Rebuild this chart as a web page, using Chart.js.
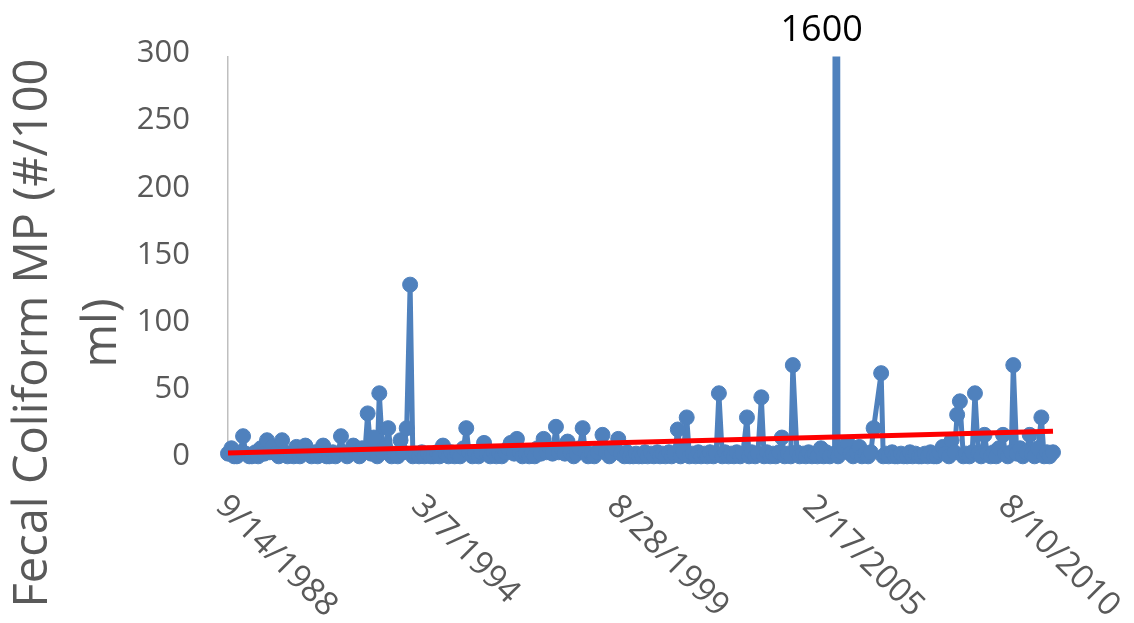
<!DOCTYPE html>
<html>
<head>
<meta charset="utf-8">
<script src="https://cdn.jsdelivr.net/npm/chart.js@4"></script>
<style>
  html, body { margin: 0; padding: 0; background: #fff; }
  #wrap { width: 1134px; height: 623px; position: relative; }
</style>
</head>
<body>
<div id="wrap"><canvas id="coliformChart"></canvas></div>
<script>
// sampling dates (M/D/YYYY) and fecal coliform readings, one line per year
const sampleDates = [
  '9/14/1988', '10/19/1988', '11/16/1988', '12/14/1988',
  '1/18/1989', '2/15/1989', '3/15/1989', '4/19/1989', '5/17/1989', '6/21/1989', '7/19/1989', '8/16/1989', '9/20/1989', '10/18/1989', '11/15/1989', '12/13/1989',
  '1/17/1990', '2/14/1990', '3/21/1990', '4/18/1990', '5/16/1990', '6/20/1990', '7/18/1990', '8/15/1990', '9/19/1990', '10/17/1990', '11/14/1990', '12/12/1990',
  '1/16/1991', '2/20/1991', '3/20/1991', '4/17/1991', '5/15/1991', '6/19/1991', '7/17/1991', '8/21/1991', '9/18/1991', '10/16/1991', '11/13/1991', '12/11/1991',
  '1/15/1992', '2/19/1992', '3/18/1992', '4/15/1992', '5/20/1992', '6/17/1992', '7/15/1992', '8/12/1992', '9/16/1992', '10/14/1992', '11/18/1992', '12/9/1992',
  '1/13/1993', '2/10/1993', '3/10/1993', '4/14/1993', '5/12/1993', '6/16/1993', '7/14/1993', '8/11/1993', '9/15/1993', '10/20/1993', '11/17/1993', '12/15/1993',
  '1/19/1994', '2/16/1994', '3/16/1994', '4/20/1994', '5/18/1994', '6/15/1994', '7/20/1994', '8/17/1994', '9/21/1994', '10/19/1994', '11/16/1994', '12/14/1994',
  '1/18/1995', '2/15/1995', '3/15/1995', '4/19/1995', '5/17/1995', '6/14/1995', '7/19/1995', '8/16/1995', '9/20/1995', '10/18/1995', '11/15/1995', '12/13/1995',
  '1/17/1996', '2/21/1996', '3/20/1996', '4/17/1996', '5/15/1996', '6/19/1996', '7/17/1996', '8/14/1996', '9/18/1996', '10/16/1996', '11/13/1996', '12/11/1996',
  '1/15/1997', '2/19/1997', '3/19/1997', '4/16/1997', '5/14/1997', '6/18/1997', '7/16/1997', '8/13/1997', '9/17/1997', '10/15/1997', '11/19/1997', '12/17/1997',
  '1/14/1998', '2/18/1998', '3/18/1998', '4/15/1998', '5/20/1998', '6/17/1998', '7/15/1998', '8/19/1998', '9/16/1998', '10/14/1998', '11/18/1998', '12/16/1998',
  '1/20/1999', '2/17/1999', '3/10/1999', '4/14/1999', '5/19/1999', '6/16/1999', '7/14/1999', '8/18/1999', '9/15/1999', '10/20/1999', '11/17/1999', '12/15/1999',
  '1/19/2000', '2/16/2000', '3/15/2000', '4/19/2000', '5/17/2000', '6/14/2000', '7/19/2000', '8/16/2000', '9/20/2000', '10/18/2000', '11/15/2000', '12/13/2000',
  '1/17/2001', '2/14/2001', '3/14/2001', '4/18/2001', '5/16/2001', '6/13/2001', '7/18/2001', '8/15/2001', '9/19/2001', '10/17/2001', '11/14/2001', '12/12/2001',
  '1/16/2002', '2/13/2002', '3/13/2002', '4/17/2002', '5/15/2002', '6/12/2002', '7/17/2002', '8/14/2002', '9/18/2002', '10/16/2002', '11/13/2002', '12/11/2002',
  '1/15/2003', '2/12/2003', '3/26/2003', '4/16/2003', '5/14/2003', '6/18/2003', '7/16/2003', '8/20/2003', '9/17/2003', '10/15/2003', '11/19/2003', '12/17/2003',
  '1/14/2004', '2/18/2004', '3/17/2004', '4/14/2004', '5/19/2004', '6/16/2004', '7/7/2004', '8/18/2004', '9/15/2004', '10/20/2004', '11/17/2004', '12/15/2004',
  '1/19/2005', '2/16/2005', '3/16/2005', '4/20/2005', '5/18/2005', '6/15/2005', '7/20/2005', '9/7/2005', '9/28/2005', '10/12/2005', '11/16/2005', '12/14/2005',
  '1/18/2006', '2/15/2006', '3/15/2006', '4/19/2006', '5/17/2006', '6/14/2006', '7/19/2006', '8/16/2006', '9/13/2006', '10/11/2006', '12/27/2006',
  '1/17/2007', '2/14/2007', '3/14/2007', '4/18/2007', '5/16/2007', '6/13/2007', '7/18/2007', '8/15/2007', '9/19/2007', '10/17/2007', '11/14/2007', '12/12/2007',
  '1/16/2008', '2/13/2008', '3/19/2008', '4/16/2008', '5/14/2008', '6/18/2008', '7/16/2008', '8/13/2008', '9/17/2008', '10/15/2008', '11/19/2008', '12/17/2008',
  '1/14/2009', '2/11/2009', '3/11/2009', '4/15/2009', '5/13/2009', '6/17/2009', '7/15/2009', '8/12/2009', '9/16/2009', '10/14/2009', '11/18/2009', '12/16/2009',
  '1/20/2010', '2/17/2010', '3/17/2010', '4/14/2010', '5/26/2010', '6/16/2010', '7/14/2010', '8/18/2010', '9/8/2010', '10/13/2010', '11/17/2010', '12/15/2010',
  '1/19/2011', '2/23/2011', '3/16/2011', '4/13/2011', '5/18/2011', '6/22/2011', '7/20/2011', '8/17/2011', '9/14/2011', '10/19/2011'
];

const fecalColiform = [
  4, 8, 2, 2,
  5, 17, 4, 2, 2, 5, 2, 8, 4, 14, 5, 9,
  4, 2, 14, 5, 2, 4, 2, 9, 2, 5, 10, 4,
  2, 5, 2, 4, 10, 2, 2, 5, 2, 4, 17, 5,
  2, 4, 10, 5, 2, 8, 5, 34, 4, 16, 2, 49,
  5, 8, 23, 2, 4, 2, 14, 5, 23, 130, 2, 4,
  2, 5, 2, 4, 2, 2, 5, 2, 10, 4, 2, 5,
  2, 4, 2, 8, 23, 5, 2, 4, 2, 5, 12, 4,
  2, 5, 2, 4, 2, 5, 8, 12, 4, 15, 5, 2,
  4, 2, 5, 2, 8, 4, 15, 5, 8, 4, 24, 5,
  8, 4, 13, 5, 2, 4, 8, 23, 5, 2, 4, 2,
  5, 8, 18, 5, 2, 4, 8, 15, 4, 2, 5, 2,
  2, 4, 2, 2, 5, 2, 4, 2, 5, 2, 4, 2,
  5, 2, 4, 22, 2, 5, 31, 2, 4, 2, 5, 2,
  4, 2, 5, 2, 4, 49, 2, 5, 2, 4, 2, 5,
  2, 4, 31, 2, 5, 2, 4, 46, 2, 5, 2, 4,
  2, 5, 16, 2, 4, 2, 70, 5, 2, 4, 2, 5,
  2, 4, 2, 8, 2, 5, 2, 4, 1600, 2, 5, 8,
  12, 4, 2, 5, 9, 2, 4, 2, 5, 23, 64,
  2, 4, 2, 5, 2, 2, 4, 2, 2, 5, 2, 4,
  2, 2, 4, 2, 5, 2, 2, 5, 9, 4, 2, 14,
  5, 33, 43, 2, 4, 2, 5, 49, 4, 2, 18, 4,
  2, 5, 2, 8, 18, 4, 2, 5, 70, 4, 8, 2,
  5, 18, 4, 2, 8, 31, 2, 5, 2, 5
];

// linear trend: value at first and last sample
const trendValues = [4.4, 20.6];

const tickLabels = ['9/14/1988', '3/7/1994', '8/28/1999', '2/17/2005', '8/10/2010'];
const yMax = 300;
const yStep = 50;
const axisTitle = ['Fecal Coliform MP (#/100', 'ml)'];

const BLUE = '#4f81bd';
const GREY_TEXT = '#595959';
const BASE = Date.UTC(1988, 8, 14);

function toDay(s) {
  const [m, d, y] = s.split('/').map(Number);
  return Math.round((Date.UTC(y, m - 1, d) - BASE) / 86400000);
}

const points = sampleDates.map((d, i) => ({ x: toDay(d), y: fecalColiform[i] }));
const firstDay = points[0].x;
const lastDay = points[points.length - 1].x;

// axis title, date labels slanting down to the right, value of the off-scale spike
const extraLabels = {
  id: 'extraLabels',
  afterDraw(chart) {
    const { ctx, chartArea, scales: { x, y } } = chart;
    ctx.save();

    ctx.fillStyle = GREY_TEXT;
    ctx.font = '47px "Open Sans"';
    ctx.textAlign = 'center';
    ctx.textBaseline = 'middle';
    axisTitle.forEach((line, i) => {
      ctx.save();
      ctx.translate(34 + i * 69, 333);
      ctx.rotate(-Math.PI / 2);
      ctx.fillText(line, 0, 0);
      ctx.restore();
    });

    ctx.font = '33px "Open Sans"';
    ctx.textAlign = 'left';
    tickLabels.forEach((lbl) => {
      const px = x.getPixelForValue(toDay(lbl));
      ctx.save();
      ctx.translate(px - 7, chartArea.bottom + 42);
      ctx.rotate(Math.PI / 4);
      ctx.fillText(lbl, 0, 0);
      ctx.restore();
    });

    ctx.fillStyle = '#000';
    ctx.font = '36px "Open Sans"';
    ctx.textAlign = 'center';
    ctx.textBaseline = 'alphabetic';
    points.forEach((p) => {
      if (p.y > y.max) {
        ctx.fillText(String(p.y), x.getPixelForValue(p.x) - 15, chartArea.top - 16);
      }
    });
    ctx.restore();
  },
};

new Chart(document.getElementById('coliformChart'), {
  type: 'line',
  data: {
    datasets: [
      {
        label: 'Trend',
        data: [{ x: firstDay, y: trendValues[0] }, { x: lastDay, y: trendValues[1] }],
        borderColor: '#ff0000',
        borderWidth: 5,
        pointRadius: 0,
        order: 0,
        clip: { left: 10, top: 0, right: 10, bottom: 10 },
      },
      {
        label: 'Fecal Coliform',
        data: points,
        borderColor: BLUE,
        backgroundColor: BLUE,
        borderWidth: 5,
        borderJoinStyle: 'round',
        borderCapStyle: 'round',
        pointRadius: 7.5,
        pointBorderWidth: 1,
        pointBackgroundColor: BLUE,
        pointBorderColor: BLUE,
        tension: 0,
        order: 1,
        clip: { left: 10, top: 0, right: 10, bottom: 10 },
      },
    ],
  },
  options: {
    responsive: true,
    maintainAspectRatio: false,
    animation: false,
    devicePixelRatio: 1,
    layout: { padding: { top: 52, right: 81, left: 0, bottom: 0 } },
    plugins: { legend: { display: false }, tooltip: { enabled: false } },
    events: [],
    scales: {
      x: {
        type: 'linear',
        min: firstDay,
        max: lastDay,
        ticks: { display: false },
        grid: { display: false, drawTicks: false },
        border: { display: true, color: '#bfbfbf', width: 1.5 },
        afterFit(s) { s.height = 164; },
      },
      y: {
        min: 0,
        max: yMax,
        ticks: {
          stepSize: yStep,
          color: GREY_TEXT,
          font: { family: 'Open Sans', size: 31 },
          padding: 38,
          labelOffset: -3,
        },
        grid: { display: false, drawTicks: false },
        border: { display: true, color: '#bfbfbf', width: 1.5 },
        afterFit(s) { s.width = 228; },
      },
    },
  },
  plugins: [extraLabels],
});
</script>
</body>
</html>
